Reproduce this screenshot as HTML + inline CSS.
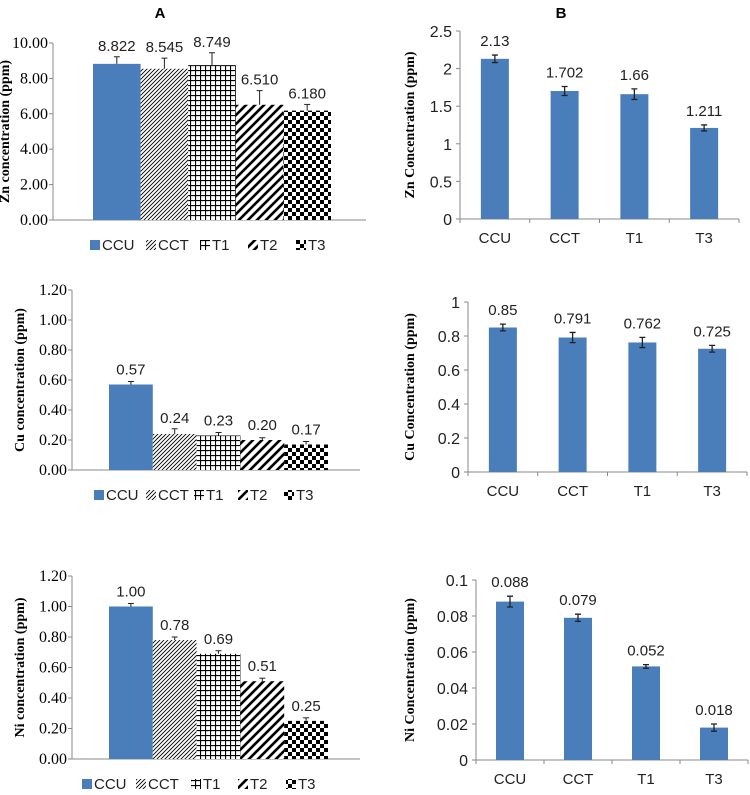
<!DOCTYPE html>
<html><head><meta charset="utf-8">
<style>
body{margin:0;background:#fff;width:750px;height:790px;overflow:hidden}
svg text{font-family:"Liberation Sans",sans-serif}
</style></head>
<body>
<svg id="fig" width="750" height="790" viewBox="0 0 750 790" xmlns="http://www.w3.org/2000/svg">
<defs>
<pattern id="pCCT" patternUnits="userSpaceOnUse" width="4" height="4"><rect width="4" height="4" fill="#fff"/><path d="M-1,1 l2,-2 M0,4 l4,-4 M3,5 l2,-2" stroke="#000" stroke-width="0.9"/></pattern>
<pattern id="pT1" patternUnits="userSpaceOnUse" width="5" height="5"><rect width="5" height="5" fill="#fff"/><path d="M0,0.5 H5 M0.5,0 V5" stroke="#000" stroke-width="1.2"/></pattern>
<pattern id="pT2" patternUnits="userSpaceOnUse" width="9" height="9"><rect width="9" height="9" fill="#fff"/><path d="M-2,2 l4,-4 M0,9 l9,-9 M7,11 l4,-4" stroke="#000" stroke-width="2.6"/></pattern>
<pattern id="pT3" patternUnits="userSpaceOnUse" width="8" height="8"><rect width="8" height="8" fill="#fff"/><rect width="4" height="4" fill="#000"/><rect x="4" y="4" width="4" height="4" fill="#000"/></pattern>
</defs>
<text x="160" y="18" text-anchor="middle" font-weight="bold" font-size="15">A</text>
<text x="561" y="18" text-anchor="middle" font-weight="bold" font-size="15">B</text>
</svg>
<script>
// Panel A data
const catsA = ["CCU","CCT","T1","T2","T3"];
const znA = [8.822,8.545,8.749,6.510,6.180];
const znAErr = [0.4,0.6,0.7,0.8,0.35];
const znALabels = ["8.822","8.545","8.749","6.510","6.180"];
const znATicks = ["0.00","2.00","4.00","6.00","8.00","10.00"];
const cuA = [0.57,0.24,0.23,0.20,0.17];
const cuAErr = [0.02,0.035,0.02,0.015,0.02];
const cuALabels = ["0.57","0.24","0.23","0.20","0.17"];
const cuATicks = ["0.00","0.20","0.40","0.60","0.80","1.00","1.20"];
const niA = [1.00,0.78,0.69,0.51,0.25];
const niAErr = [0.02,0.02,0.02,0.02,0.02];
const niALabels = ["1.00","0.78","0.69","0.51","0.25"];
const niATicks = ["0.00","0.20","0.40","0.60","0.80","1.00","1.20"];
// Panel B data
const catsB = ["CCU","CCT","T1","T3"];
const znB = [2.13,1.702,1.66,1.211];
const znBErr = [0.05,0.06,0.07,0.04];
const znBLabels = ["2.13","1.702","1.66","1.211"];
const znBTicks = ["0","0.5","1","1.5","2","2.5"];
const cuB = [0.85,0.791,0.762,0.725];
const cuBErr = [0.02,0.03,0.03,0.02];
const cuBLabels = ["0.85","0.791","0.762","0.725"];
const cuBTicks = ["0","0.2","0.4","0.6","0.8","1"];
const niB = [0.088,0.079,0.052,0.018];
const niBErr = [0.003,0.002,0.001,0.002];
const niBLabels = ["0.088","0.079","0.052","0.018"];
const niBTicks = ["0","0.02","0.04","0.06","0.08","0.1"];

const svg = document.getElementById('fig');
const NS = 'http://www.w3.org/2000/svg';
function mk(tag, attrs, parent){const e=document.createElementNS(NS,tag);for(const k in attrs)e.setAttribute(k,attrs[k]);(parent||svg).appendChild(e);return e;}
const fillsA = ["#4a7ebb","url(#pCCT)","url(#pT1)","url(#pT2)","url(#pT3)"];

function chartA(name, cats, vals, errs, labels, ticks, o){
  const g = mk('g',{});
  
  
  const max = parseFloat(ticks[ticks.length-1]);
  const y = v => o.base - v/max*(o.base-o.top);
  ticks.forEach((t,i)=>{
    const v=parseFloat(t);
    mk('line',{x1:o.ax-4,x2:o.ax,y1:y(v),y2:y(v),stroke:'#888'},g);
    const tx = mk('text',{x:o.ax-5,y:y(v)+5,'text-anchor':'end','font-size':16,style:'font-family:"Liberation Serif",serif'},g);
    tx.textContent=t;
    
    
  });
  mk('line',{x1:o.ax,x2:o.ax,y1:o.top,y2:o.base,stroke:'#888'},g);
  mk('line',{x1:o.ax,x2:o.end,y1:o.base,y2:o.base,stroke:'#888'},g);
  const at = mk('text',{transform:`translate(${o.ax-o.tOff},${(o.top+o.base)/2}) rotate(-90)`,'text-anchor':'middle','font-size':14,'font-weight':'bold',style:'font-family:"Liberation Serif",serif'},g);
  at.textContent=o.title;
  
  
  vals.forEach((v,i)=>{
    const x0=o.bx+i*o.bw;
    const r=mk('rect',{x:x0,y:y(v),width:o.bw,height:o.base-y(v),fill:fillsA[i]},g);
    
    
    const cx=x0+o.bw/2, ye=y(v+errs[i]);
    mk('line',{x1:cx,x2:cx,y1:y(v),y2:ye,stroke:'#222','stroke-width':1},g);
    mk('line',{x1:cx-3,x2:cx+3,y1:ye,y2:ye,stroke:'#222','stroke-width':1},g);
    const lt=mk('text',{x:cx,y:Math.min(ye,y(v)-4)-6,'text-anchor':'middle','font-size':15,fill:'#222'},g);
    lt.textContent=labels[i];
    
    
  });
  cats.forEach((c,i)=>{
    const sx=o.leg[i];
    const sw=mk('rect',{x:sx,y:o.ly-10,width:10,height:10,fill:fillsA[i]},g);
    
    
    const lt=mk('text',{x:sx+12,y:o.ly,'font-size':15,fill:'#222'},g);
    lt.textContent=c;
    
    
  });
}

function chartB(name, cats, vals, errs, labels, ticks, o){
  const g = mk('g',{});
  
  
  const max = parseFloat(ticks[ticks.length-1]);
  const y = v => o.base - v/max*(o.base-o.top);
  const cw=(o.end-o.ax)/cats.length;
  ticks.forEach(t=>{
    const v=parseFloat(t);
    mk('line',{x1:o.ax-4,x2:o.ax,y1:y(v),y2:y(v),stroke:'#888'},g);
    const tx=mk('text',{x:o.ax-8,y:y(v)+6,'text-anchor':'end','font-size':16,fill:'#222'},g);
    tx.textContent=t;
    
    
  });
  mk('line',{x1:o.ax,x2:o.ax,y1:o.top,y2:o.base,stroke:'#888'},g);
  mk('line',{x1:o.ax,x2:o.end,y1:o.base,y2:o.base,stroke:'#888'},g);
  for(let i=0;i<=cats.length;i++){const tx=o.ax+i*cw;mk('line',{x1:tx,x2:tx,y1:o.base,y2:o.base+4,stroke:'#888'},g);}
  const at=mk('text',{transform:`translate(${o.ax-o.tOff},${(o.top+o.base)/2}) rotate(-90)`,'text-anchor':'middle','font-size':14,'font-weight':'bold',style:'font-family:"Liberation Serif",serif'},g);
  at.textContent=o.title;
  
  
  vals.forEach((v,i)=>{
    const cx=o.ax+cw*(i+0.5), bw=28;
    const r=mk('rect',{x:cx-bw/2,y:y(v),width:bw,height:o.base-y(v),fill:'#4a7ebb'},g);
    
    
    const yt=y(v+errs[i]), yb=y(v-errs[i]);
    mk('path',{d:`M${cx},${yt}V${yb}M${cx-3},${yt}H${cx+3}M${cx-3},${yb}H${cx+3}`,stroke:'#222','stroke-width':1.3,fill:'none'},g);
    const lt=mk('text',{x:cx,y:yt-9,'text-anchor':'middle','font-size':15,fill:'#222'},g);
    lt.textContent=labels[i];
    
    
    const cl=mk('text',{x:cx,y:o.base+24,'text-anchor':'middle','font-size':15,fill:'#222'},g);
    cl.textContent=cats[i];
    
    
  });
}

chartA('zn-a',catsA,znA,znAErr,znALabels,znATicks,{ax:53,end:366,top:43,base:220,bx:93,bw:47.6,tOff:44,title:'Zn concentration (ppm)',ly:250,leg:[90,146,200,248,296]});
chartA('cu-a',catsA,cuA,cuAErr,cuALabels,cuATicks,{ax:72,end:360,top:290,base:470,bx:109,bw:43.8,tOff:48,title:'Cu concentration (ppm)',ly:500,leg:[94,146,194,238,284]});
chartA('ni-a',catsA,niA,niAErr,niALabels,niATicks,{ax:72,end:360,top:576,base:759,bx:109,bw:43.8,tOff:48,title:'Ni concentration (ppm)',ly:789,leg:[82,136,191,238,286]});
chartB('zn-b',catsB,znB,znBErr,znBLabels,znBTicks,{ax:460,end:739,top:31,base:219,tOff:46,title:'Zn Concentration (ppm)'});
chartB('cu-b',catsB,cuB,cuBErr,cuBLabels,cuBTicks,{ax:468,end:747,top:302,base:472,tOff:54,title:'Cu Concentration (ppm)'});
chartB('ni-b',catsB,niB,niBErr,niBLabels,niBTicks,{ax:476,end:748,top:580,base:760,tOff:62,title:'Ni Concentration (ppm)'});
</script>
</body></html>
